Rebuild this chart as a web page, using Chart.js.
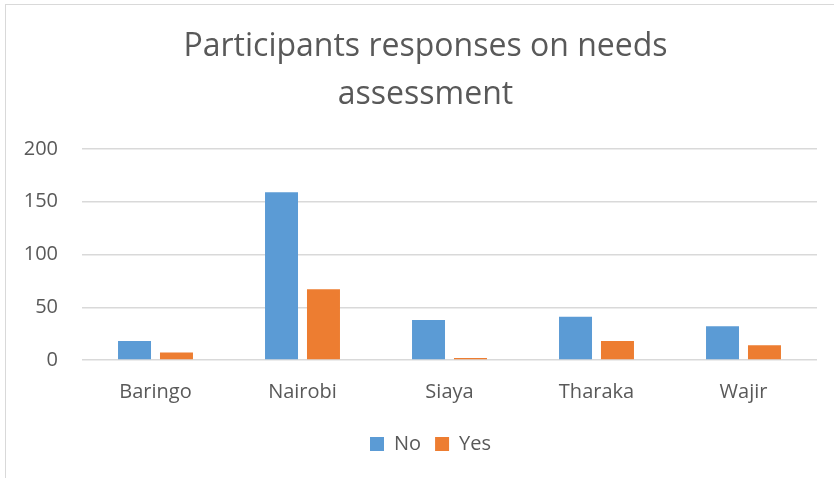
<!DOCTYPE html>
<html>
<head>
<meta charset="utf-8">
<script src="https://cdn.jsdelivr.net/npm/chart.js@4"></script>
<style>
  html, body { margin: 0; padding: 0; background: #fff; }
  #wrap { position: relative; width: 834px; height: 478px; }
  #frame { position: absolute; left: 5px; top: 4px; width: 840px; height: 490px; border-left: 1px solid #d9d9d9; border-top: 1px solid #d9d9d9; pointer-events: none; }
  canvas { position: absolute; left: 0; top: 0; }
</style>
</head>
<body>
<div id="wrap">
  <canvas id="c" width="834" height="478"></canvas>
  <div id="frame"></div>
</div>
<script>
const categories = ["Baringo", "Nairobi", "Siaya", "Tharaka", "Wajir"];
const noValues = [18, 159, 38, 41, 32];
const yesValues = [7, 67, 2, 18, 14];
const seriesNames = ["No", "Yes"];
const yTicks = [0, 50, 100, 150, 200];
const titleLines = ["Participants responses on needs", "assessment"];

const textColor = "#595959";
const fontFamily = "'Open Sans', 'Liberation Sans', sans-serif";

// shift title and legend horizontally to centre them like the original
const shiftBlocks = {
  id: "shiftBlocks",
  afterLayout(chart) {
    if (chart.legend) { chart.legend.left += 22; chart.legend.right += 22; }
    if (chart.titleBlock) { chart.titleBlock.left += 17; chart.titleBlock.right += 17; }
  }
};

new Chart(document.getElementById("c"), {
  type: "bar",
  data: {
    labels: categories,
    datasets: [
      { label: seriesNames[0], data: noValues, backgroundColor: "#5B9BD5", barPercentage: 0.786, categoryPercentage: 0.571 },
      { label: seriesNames[1], data: yesValues, backgroundColor: "#ED7D31", barPercentage: 0.786, categoryPercentage: 0.571 }
    ]
  },
  plugins: [shiftBlocks],
  options: {
    responsive: false,
    animation: false,
    layout: { padding: { top: 0, right: 17, bottom: 14, left: 0 } },
    plugins: {
      title: {
        display: true,
        text: titleLines,
        color: textColor,
        font: { family: fontFamily, size: 32, weight: "normal", lineHeight: 48 / 32 },
        padding: { top: 23, bottom: 30 }
      },
      legend: {
        display: true,
        position: "bottom",
        labels: {
          color: textColor,
          font: { family: fontFamily, size: 20 },
          boxWidth: 14,
          boxHeight: 14,
          padding: 14
        }
      },
      tooltip: { enabled: false }
    },
    scales: {
      x: {
        grid: { display: false },
        border: { display: false },
        ticks: { color: textColor, font: { family: fontFamily, size: 20 }, padding: 12 },
        afterFit: (s) => { s.height = 60; }
      },
      y: {
        min: 0,
        max: 200,
        afterBuildTicks: (s) => { s.ticks = yTicks.map(v => ({ value: v })); },
        grid: { color: "#d9d9d9", lineWidth: 1.5, drawTicks: false },
        border: { display: false },
        ticks: { color: textColor, font: { family: fontFamily, size: 20 }, padding: 24 },
        afterFit: (s) => { s.width = 82; }
      }
    }
  }
});
</script>
</body>
</html>
